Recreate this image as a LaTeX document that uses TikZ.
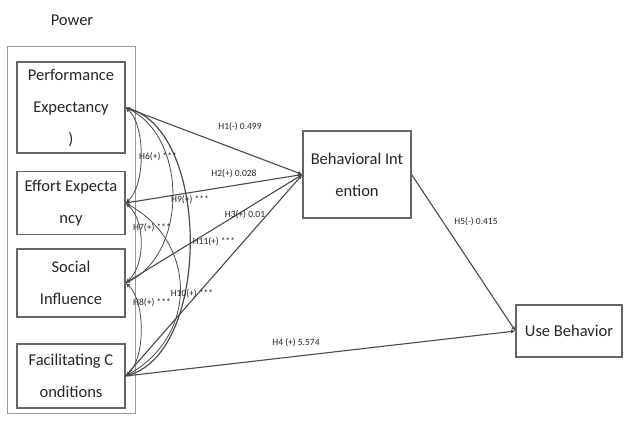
\documentclass[tikz,border=0pt]{standalone}
\usepackage{fontspec}
\setmainfont{Carlito}
\usetikzlibrary{arrows.meta,positioning}

\definecolor{txtgray}{HTML}{262626}
\definecolor{boxgray}{HTML}{666666}
\definecolor{linegray}{HTML}{4A4A4A}

\tikzset{
  construct/.style={draw=boxgray, line width=1.1pt, fill=white, align=center,
    text=txtgray, font=\fontsize{16.5}{32}\selectfont, inner sep=0pt},
  causal/.style={draw=linegray, line width=1.1pt, -{Latex[length=4.5pt,width=4pt]}},
  corr/.style={draw=linegray, line width=0.8pt,
    {Latex[length=4.5pt,width=4pt]}-{Latex[length=4.5pt,width=4pt]}},
  hyp/.style={text=txtgray, font=\fontsize{9.5}{11}\selectfont, inner sep=1pt}
}

\begin{document}
\begin{tikzpicture}[x=1pt,y=-1pt]
\useasboundingbox (0,0) rectangle (627,425);
% Power group
\draw[draw=black!40, line width=1pt] (7,47) rectangle (135,413);
\node[text=txtgray, font=\fontsize{16.5}{18}\selectfont] (power) at (72,20) {Power};
% constructs
\node[construct, minimum width=108pt, minimum height=91pt] (pe) at (71,107.5) {Performance\\Expectancy\\)};
\node[construct, minimum width=108pt, minimum height=63pt] (ee) at (71,203) {Effort Expecta\\ncy};
\node[construct, minimum width=108pt, minimum height=68pt] (si) at (71,283) {Social\\Influence};
\node[construct, minimum width=108pt, minimum height=64pt] (fc) at (71,376) {Facilitating C\\onditions};
\node[construct, minimum width=108pt, minimum height=87pt] (bi) at (357,174.5) {Behavioral Int\\ention};
\node[construct, minimum width=106pt, minimum height=52pt] (ub) at (569,331) {Use Behavior};
% structural paths
\draw[causal] (pe.east) -- (bi.west);
\draw[causal] (ee.east) -- (bi.west);
\draw[causal] (si.east) -- (bi.west);
\draw[causal] (fc.east) -- (bi.west);
\draw[causal] (fc.east) -- (ub.west);
\draw[causal] (bi.east) -- (ub.west);
% correlations
\draw[corr] (pe.east) .. controls +(20,18) and +(20,-18) .. (ee.east);
\draw[corr] (ee.east) .. controls +(20,18) and +(20,-18) .. (si.east);
\draw[corr] (si.east) .. controls +(20,18) and +(20,-18) .. (fc.east);
\draw[corr] (pe.east) .. controls +(62,30) and +(62,-30) .. (si.east);
\draw[corr] (ee.east) .. controls +(72,40) and +(72,-40) .. (fc.east);
\draw[corr, line width=1.2pt] (pe.east) .. controls +(85,25) and +(85,-25) .. (fc.east);
% hypothesis labels
\node[hyp] (h1) at (240,127) {H1(-) 0.499};
\node[hyp] (h2) at (234,174) {H2(+) 0.028};
\node[hyp] (h3) at (245,215) {H3(+) 0.01};
\node[hyp] (h4) at (296,343) {H4 (+) 5.574};
\node[hyp] (h5) at (476,222) {H5(-) 0.415};
\node[hyp] (h6) at (158,157) {H6(+) ***};
\node[hyp] (h7) at (152,228) {H7(+) ***};
\node[hyp] (h8) at (152,303) {H8(+) ***};
\node[hyp] (h9) at (190,200) {H9(+) ***};
\node[hyp] (h10) at (192,294) {H10(+) ***};
\node[hyp] (h11) at (214,242) {H11(+) ***};
\end{tikzpicture}
\end{document}
